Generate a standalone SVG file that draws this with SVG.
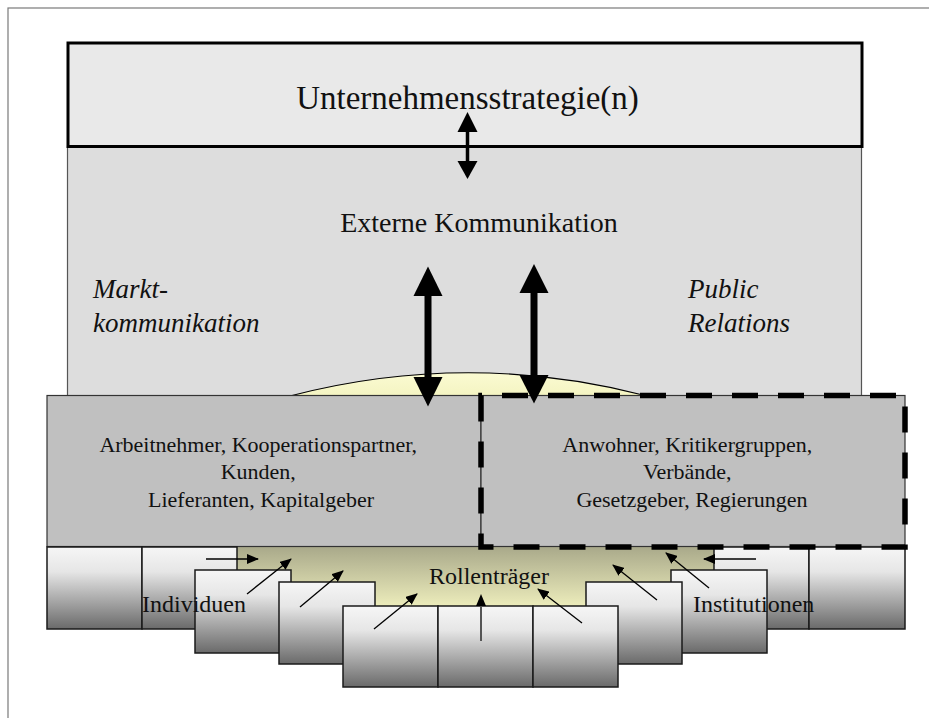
<svg xmlns="http://www.w3.org/2000/svg" width="929" height="718" viewBox="0 0 929 718">
<style>
.serif{font-family:"Liberation Serif","Times New Roman",serif;fill:#111}
.blk{fill:url(#gBlock);stroke:#1a1a1a;stroke-width:1.5}
.thin{stroke:#000;stroke-width:1.3;fill:none;marker-end:url(#hThin)}
.big{stroke:#000;stroke-width:7;fill:none}
</style>
<defs>
<linearGradient id="gBlock" x1="0" y1="0" x2="0" y2="1">
<stop offset="0" stop-color="#f6f6f6"/>
<stop offset="0.3" stop-color="#e6e6e6"/>
<stop offset="1" stop-color="#6a6a6a"/>
</linearGradient>
<linearGradient id="gBeige" x1="0" y1="0" x2="0" y2="1">
<stop offset="0" stop-color="#a9a98a"/>
<stop offset="1" stop-color="#f3f3c0"/>
</linearGradient>
<linearGradient id="gDome" x1="0" y1="0" x2="0" y2="1">
<stop offset="0" stop-color="#fbfbd2"/>
<stop offset="1" stop-color="#f4f4c2"/>
</linearGradient>
<marker id="hThin" markerWidth="12" markerHeight="10" refX="11" refY="5" orient="auto" markerUnits="userSpaceOnUse">
<path d="M0,0 L12,5 L0,10 Z" fill="#000"/>
</marker>
</defs>

<rect x="8" y="8" width="940" height="730" fill="#fff" stroke="#7a7a7a" stroke-width="1.2"/>

<g id="externe-kommunikation">
<rect x="67.5" y="146" width="794" height="252" fill="#dddddd" stroke="#555" stroke-width="1.2"/>
<text class="serif" x="479" y="232" font-size="28" text-anchor="middle">Externe Kommunikation</text>
<text class="serif" x="93" y="298" font-size="27" font-style="italic">Markt-</text>
<text class="serif" x="93" y="332" font-size="27" font-style="italic">kommunikation</text>
<text class="serif" x="688" y="298" font-size="27" font-style="italic">Public</text>
<text class="serif" x="688" y="332" font-size="27" font-style="italic">Relations</text>
</g>

<g id="unternehmensstrategie">
<rect x="68" y="43" width="794" height="103.5" fill="#e9e9e9" stroke="#000" stroke-width="3"/>
<text class="serif" x="467.5" y="109" font-size="33" text-anchor="middle">Unternehmensstrategie(n)</text>
</g>

<g id="dome">
<path d="M292,395.5 Q468,350 645,395.5 Z" fill="url(#gDome)" stroke="#000" stroke-width="1.2"/>
</g>

<g id="rollentraeger-area">
<rect x="237" y="547" width="477" height="65" fill="url(#gBeige)"/>
</g>

<g id="marktpartner">
<rect x="47" y="395.5" width="434" height="151" fill="#c0c0c0" stroke="#333" stroke-width="1.2"/>
<text class="serif" font-size="22" text-anchor="middle">
<tspan x="261" y="452">Arbeitnehmer, Kooperationspartner,</tspan>
<tspan x="261" y="479">Kunden,</tspan>
<tspan x="261" y="507">Lieferanten, Kapitalgeber</tspan>
</text>
</g>

<g id="blocks-row1">
<rect class="blk" x="47" y="547" width="95" height="82"/>
<rect class="blk" x="142" y="547" width="95" height="82"/>
<rect class="blk" x="714" y="547" width="95" height="82"/>
<rect class="blk" x="809" y="547" width="96" height="82"/>
</g>
<g id="blocks-row2">
<rect class="blk" x="195" y="570" width="96" height="83"/>
<rect class="blk" x="671" y="570" width="96" height="83"/>
</g>
<g id="blocks-row3">
<rect class="blk" x="279" y="582" width="96" height="82"/>
<rect class="blk" x="586" y="582" width="96" height="82"/>
</g>
<g id="blocks-row4">
<rect class="blk" x="343" y="606" width="95" height="81"/>
<rect class="blk" x="438" y="606" width="95" height="81"/>
<rect class="blk" x="533" y="606" width="85" height="81"/>
</g>

<g id="public-partner">
<rect x="481" y="395.5" width="424" height="151" fill="#c0c0c0" stroke="#333" stroke-width="1.2"/>
<text class="serif" font-size="22" text-anchor="middle">
<tspan x="690" y="452">Anwohner, Kritikergruppen,</tspan>
<tspan x="690" y="479">Verbände,</tspan>
<tspan x="692" y="507">Gesetzgeber, Regierungen</tspan>
</text>
<path d="M481,395.5 V547 H905 V395.5 Z" fill="none" stroke="#000" stroke-width="5.5" stroke-dasharray="26 20"/>
</g>

<g id="labels">
<text class="serif" x="489" y="584" font-size="24" text-anchor="middle">Rollenträger</text>
<text class="serif" x="142" y="612" font-size="24">Individuen</text>
<text class="serif" x="693" y="612" font-size="24">Institutionen</text>
</g>

<g id="connectors">
<line x1="467.5" y1="130" x2="467.5" y2="163" stroke="#000" stroke-width="3.5"/>
<polygon points="467.5,112 457.5,132 477.5,132" fill="#000"/>
<polygon points="467.5,179 457.5,161 477.5,161" fill="#000"/>

<line class="big" x1="428" y1="293" x2="428" y2="380"/>
<polygon points="428,266.5 413.5,296 442.5,296" fill="#000"/>
<polygon points="428,406.5 413.5,377 442.5,377" fill="#000"/>

<line class="big" x1="534" y1="290" x2="534" y2="378"/>
<polygon points="534,264 519.5,293 548.5,293" fill="#000"/>
<polygon points="534,403.5 519.5,375 548.5,375" fill="#000"/>

<line class="thin" x1="206" y1="559" x2="258" y2="559"/>
<line class="thin" x1="247" y1="594" x2="291" y2="559"/>
<line class="thin" x1="300" y1="607" x2="343" y2="571"/>
<line class="thin" x1="374" y1="629" x2="417" y2="594"/>
<line x1="481" y1="641" x2="481" y2="600" stroke="#555" stroke-width="2"/>
<polygon points="481,594 476,606 486,606" fill="#000"/>
<line class="thin" x1="582" y1="623" x2="538" y2="589"/>
<line class="thin" x1="657" y1="600" x2="613" y2="565"/>
<line class="thin" x1="709" y1="588" x2="666" y2="553"/>
<line class="thin" x1="756" y1="559" x2="704" y2="559"/>
</g>
</svg>
